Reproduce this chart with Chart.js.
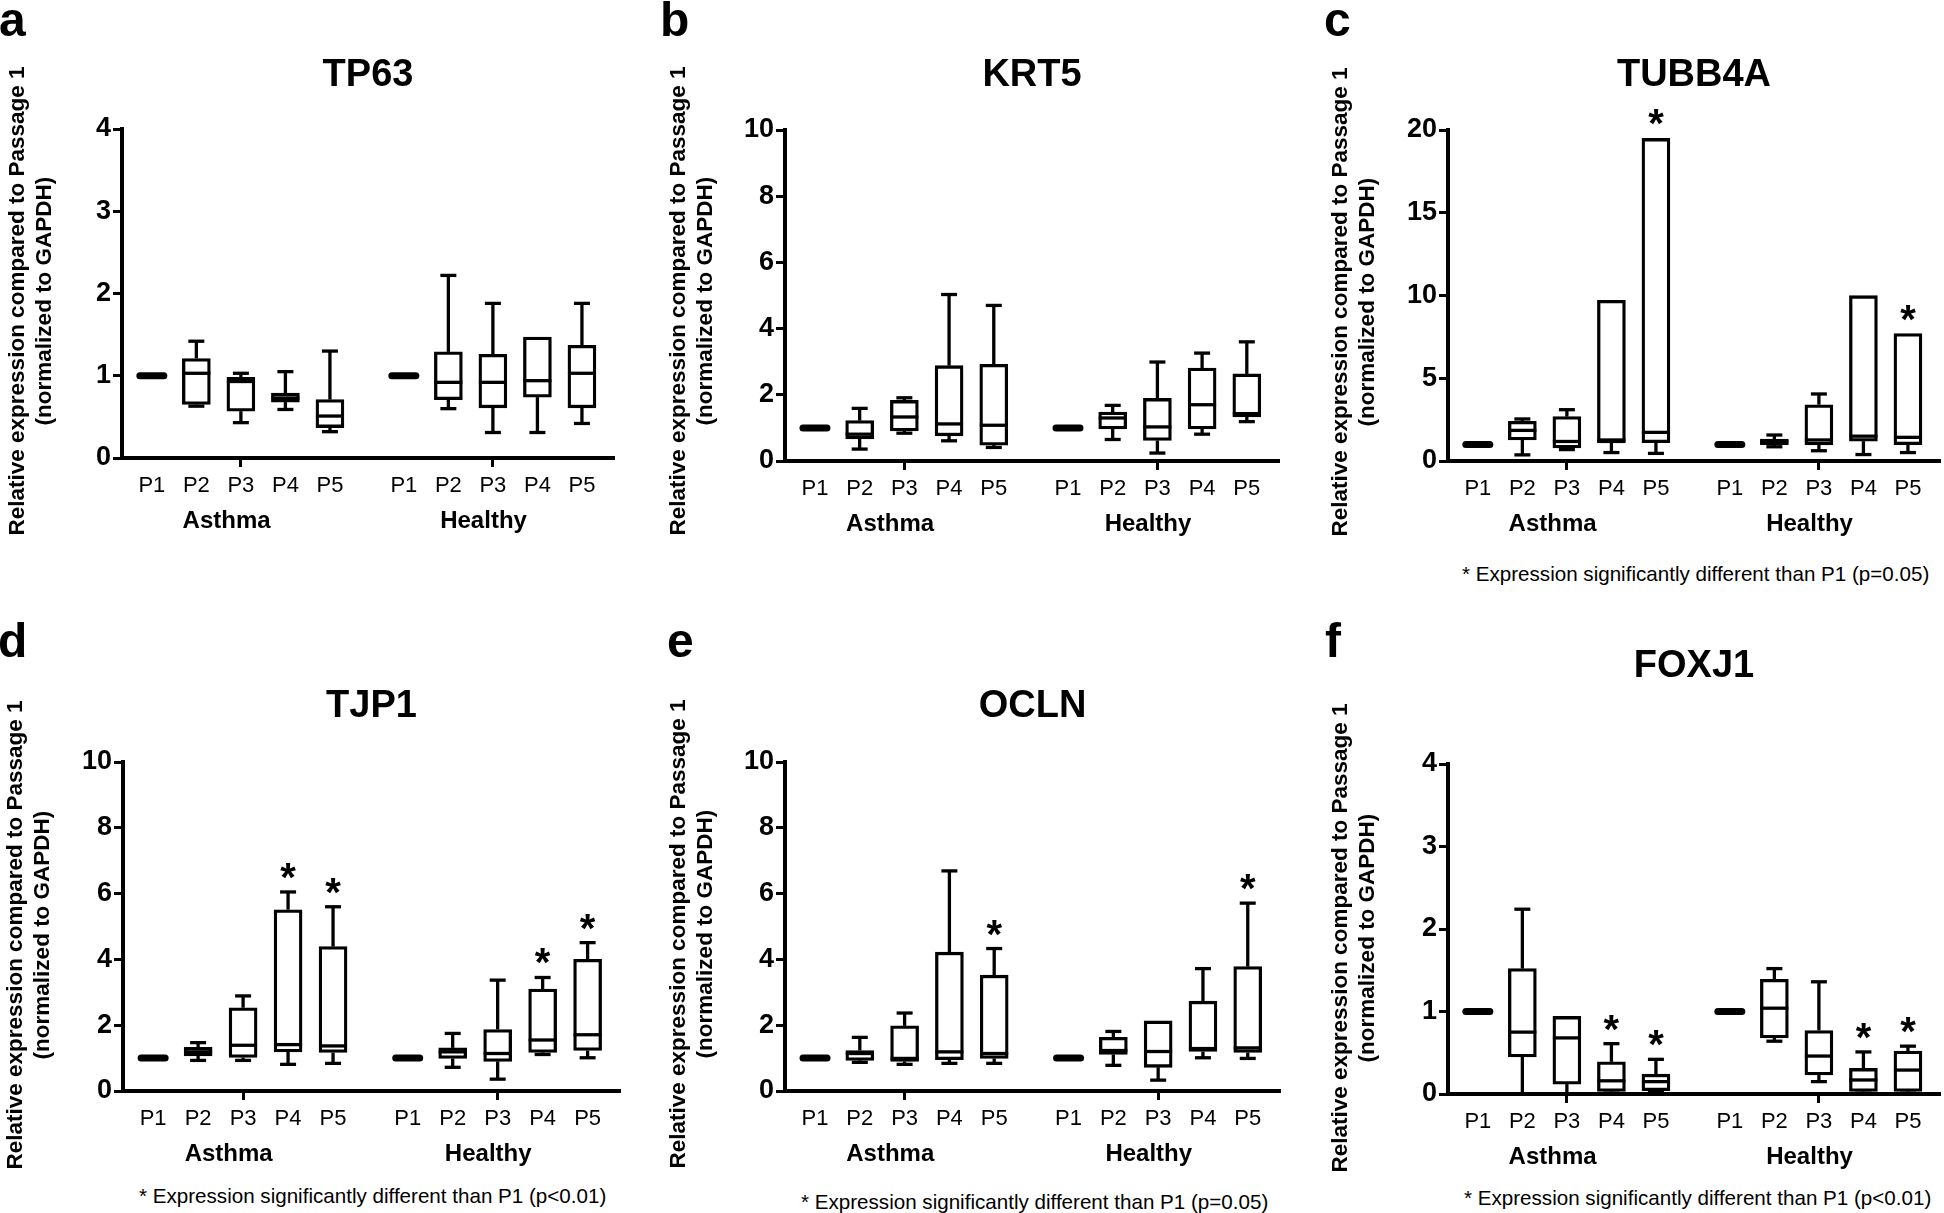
<!DOCTYPE html>
<html>
<head>
<meta charset="utf-8">
<title>Expression per passage</title>
<script src="https://cdn.jsdelivr.net/npm/chart.js@4.4.1/dist/chart.umd.min.js"></script>
<style>
    html, body { margin: 0; padding: 0; background: #fff; }
    #fig { position: relative; width: 1944px; height: 1213px; overflow: hidden;
           font-family: "Liberation Sans", Arial, Helvetica, sans-serif; color: #000; }
    #fig canvas { position: absolute; }
    .letter { position: absolute; font-weight: bold; font-size: 48px; line-height: 48px; }
    .ytitle { position: absolute; width: 600px; text-align: center; font-weight: bold;
              font-size: 22.5px; line-height: 27px; white-space: nowrap;
              transform: translate(-50%, -50%) rotate(-90deg); }
    .note { position: absolute; font-size: 20.6px; line-height: 24px; white-space: nowrap; }
</style>
</head>
<body>
<div id="fig">
    <canvas id="cA" width="650" height="543" style="left:0px;top:0px"></canvas>
    <canvas id="cB" width="640" height="546" style="left:660px;top:0px"></canvas>
    <canvas id="cC" width="621" height="546" style="left:1323px;top:0px"></canvas>
    <canvas id="cD" width="650" height="586" style="left:0px;top:590px"></canvas>
    <canvas id="cE" width="640" height="586" style="left:660px;top:590px"></canvas>
    <canvas id="cF" width="621" height="589" style="left:1323px;top:590px"></canvas>

    <div class="letter" style="left:-1px;top:-4px">a</div>
    <div class="letter" style="left:660px;top:-4px">b</div>
    <div class="letter" style="left:1324px;top:-4px">c</div>
    <div class="letter" style="left:-2px;top:617px">d</div>
    <div class="letter" style="left:667px;top:617px">e</div>
    <div class="letter" style="left:1325px;top:617px">f</div>

    <div class="ytitle" style="left:30px;top:301px">Relative expression compared to Passage 1<br>(normalized to GAPDH)</div>
    <div class="ytitle" style="left:691px;top:301px">Relative expression compared to Passage 1<br>(normalized to GAPDH)</div>
    <div class="ytitle" style="left:1353px;top:302px">Relative expression compared to Passage 1<br>(normalized to GAPDH)</div>
    <div class="ytitle" style="left:28px;top:935px">Relative expression compared to Passage 1<br>(normalized to GAPDH)</div>
    <div class="ytitle" style="left:691px;top:934px">Relative expression compared to Passage 1<br>(normalized to GAPDH)</div>
    <div class="ytitle" style="left:1353px;top:938px">Relative expression compared to Passage 1<br>(normalized to GAPDH)</div>

    <div class="note" style="left:1462px;top:562px">* Expression significantly different than P1 (p=0.05)</div>
    <div class="note" style="left:139px;top:1184px">* Expression significantly different than P1 (p&lt;0.01)</div>
    <div class="note" style="left:801px;top:1190px">* Expression significantly different than P1 (p=0.05)</div>
    <div class="note" style="left:1464px;top:1186px">* Expression significantly different than P1 (p&lt;0.01)</div>
</div>

<script>
// ===========================
// Data
// ===========================
const passageLabels = ["P1", "P2", "P3", "P4", "P5", "P1", "P2", "P3", "P4", "P5"];
const passagePos = [1, 2, 3, 4, 5, 6.66, 7.66, 8.66, 9.66, 10.66];
const groupLabels = ["Asthma", "Healthy"];
const groupPos = [2.68, 8.45];
const groupTicks = [3, 8.66];

// TP63
const tp63Min = [1, 0.63, 0.43, 0.59, 0.32, 1, 0.60, 0.31, 0.31, 0.42];
const tp63Q1  = [1, 0.65, 0.57, 0.68, 0.37, 1, 0.71, 0.61, 0.74, 0.61];
const tp63Med = [1, 1.03, 0.93, 0.73, 0.51, 1, 0.92, 0.92, 0.94, 1.03];
const tp63Q3  = [1, 1.21, 0.98, 0.79, 0.71, 1, 1.29, 1.26, 1.47, 1.37];
const tp63Max = [1, 1.42, 1.03, 1.05, 1.30, 1, 2.22, 1.88, 1.47, 1.88];
const tp63Star = [0, 0, 0, 0, 0, 0, 0, 0, 0, 0];

// KRT5
const krt5Min = [1, 0.36, 0.84, 0.61, 0.41, 1, 0.65, 0.24, 0.81, 1.19];
const krt5Q1  = [1, 0.67, 0.91, 0.76, 0.48, 1, 0.97, 0.62, 0.97, 1.33];
const krt5Med = [1, 0.81, 1.33, 1.12, 1.08, 1, 1.30, 1.03, 1.70, 1.43];
const krt5Q3  = [1, 1.22, 1.83, 2.88, 2.92, 1, 1.48, 1.89, 2.81, 2.63];
const krt5Max = [1, 1.59, 1.91, 5.03, 4.70, 1, 1.68, 2.99, 3.26, 3.60];
const krt5Star = [0, 0, 0, 0, 0, 0, 0, 0, 0, 0];

// TUBB4A
const tubbMin = [1, 0.37, 0.69, 0.51, 0.46, 1, 0.86, 0.62, 0.39, 0.51];
const tubbQ1  = [1, 1.27, 0.79, 1.09, 1.11, 1, 0.99, 0.97, 1.20, 0.99];
const tubbMed = [1, 1.85, 1.18, 1.27, 1.73, 1, 1.16, 1.27, 1.50, 1.43];
const tubbQ3  = [1, 2.40, 2.68, 9.71, 19.49, 1, 1.32, 3.40, 9.99, 7.70];
const tubbMax = [1, 2.54, 3.10, 9.71, 19.49, 1, 1.57, 4.05, 9.99, 7.70];
const tubbStar = [0, 0, 0, 0, 1, 0, 0, 0, 0, 1];

// TJP1
const tjp1Min = [1, 0.93, 0.93, 0.81, 0.84, 1, 0.72, 0.36, 1.11, 1.01];
const tjp1Q1  = [1, 1.07, 1.02, 1.19, 1.17, 1, 0.99, 0.90, 1.17, 1.23];
const tjp1Med = [1, 1.19, 1.39, 1.41, 1.37, 1, 1.19, 1.14, 1.55, 1.71];
const tjp1Q3  = [1, 1.33, 2.53, 5.51, 4.39, 1, 1.31, 1.87, 3.10, 4.00];
const tjp1Max = [1, 1.47, 2.89, 6.05, 5.60, 1, 1.75, 3.37, 3.45, 4.51];
const tjp1Star = [0, 0, 0, 1, 1, 0, 0, 0, 1, 1];

// OCLN
const oclnMin = [1, 0.87, 0.81, 0.84, 0.84, 1, 0.78, 0.33, 1.01, 0.99];
const oclnQ1  = [1, 0.93, 0.90, 0.95, 0.99, 1, 1.11, 0.72, 1.20, 1.17];
const oclnMed = [1, 1.14, 0.99, 1.19, 1.14, 1, 1.23, 1.20, 1.29, 1.31];
const oclnQ3  = [1, 1.23, 1.98, 4.22, 3.52, 1, 1.63, 2.13, 2.73, 3.78];
const oclnMax = [1, 1.63, 2.37, 6.69, 4.33, 1, 1.81, 2.13, 3.72, 5.71];
const oclnStar = [0, 0, 0, 0, 1, 0, 0, 0, 0, 1];

// FOXJ1
const foxj1Min = [1, 0, 0, 0.01, 0.02, 1, 0.64, 0.15, 0.01, 0.01];
const foxj1Q1  = [1, 0.45, 0.12, 0.03, 0.04, 1, 0.68, 0.23, 0.03, 0.03];
const foxj1Med = [1, 0.75, 0.68, 0.16, 0.15, 1, 1.04, 0.46, 0.17, 0.29];
const foxj1Q3  = [1, 1.52, 0.94, 0.39, 0.24, 1, 1.39, 0.77, 0.31, 0.52];
const foxj1Max = [1, 2.24, 0.94, 0.61, 0.42, 1, 1.52, 1.36, 0.51, 0.58];
const foxj1Star = [0, 0, 0, 1, 1, 0, 0, 0, 1, 1];

// ===========================
// Helpers
// ===========================
const FONT = '"Liberation Sans", Arial, Helvetica, sans-serif';
Chart.defaults.font.family = FONT;
Chart.defaults.color = "#000";

const X_MIN = 0.33;
const X_MAX = 11.38;
const LINE_W = 3.3;

function seg(ctx, x1, y1, x2, y2) {
    ctx.beginPath();
    ctx.moveTo(x1, y1);
    ctx.lineTo(x2, y2);
    ctx.stroke();
}

// whiskers, medians and stars drawn on top of the floating bars
function makeBoxPlugin(s) {
    return {
        id: "boxWhisker",
        afterDatasetsDraw(chart) {
            const ctx = chart.ctx;
            const y = chart.scales.y;
            const bars = chart.getDatasetMeta(0).data;
            ctx.save();
            ctx.strokeStyle = "#000";
            ctx.fillStyle = "#000";
            bars.forEach(function (bar, i) {
                const x = bar.x;
                const half = bar.width / 2;
                const pMin = y.getPixelForValue(s.min[i]);
                const pQ1 = y.getPixelForValue(s.q1[i]);
                const pMed = y.getPixelForValue(s.med[i]);
                const pQ3 = y.getPixelForValue(s.q3[i]);
                const pMax = y.getPixelForValue(s.max[i]);

                if (s.q1[i] === s.q3[i]) {
                    ctx.lineWidth = 7;
                    ctx.lineCap = "round";
                    seg(ctx, x - 12, pMed, x + 12, pMed);
                } else {
                    ctx.lineWidth = LINE_W;
                    ctx.lineCap = "butt";
                    if (s.max[i] > s.q3[i]) {
                        seg(ctx, x, pQ3, x, pMax);
                        seg(ctx, x - 8, pMax, x + 8, pMax);
                    }
                    if (s.min[i] < s.q1[i]) {
                        seg(ctx, x, pQ1, x, pMin);
                        seg(ctx, x - 8, pMin, x + 8, pMin);
                    }
                    seg(ctx, x - half, pMed, x + half, pMed);
                }

                if (s.star[i]) {
                    ctx.font = "bold 40px " + FONT;
                    ctx.textAlign = "center";
                    ctx.textBaseline = "alphabetic";
                    ctx.fillText("*", x, pMax - 23 + 22);
                }
            });
            ctx.restore();
        }
    };
}

function buildChart(id, title, s, yMax, yStep, g) {
    const canvas = document.getElementById(id);
    return new Chart(canvas, {
        type: "bar",
        data: {
            datasets: [{
                data: passagePos.map((p, i) => ({ x: p, y: [s.q1[i], s.q3[i]] })),
                xAxisID: "x",
                yAxisID: "y",
                backgroundColor: "#fff",
                borderColor: "#000",
                borderWidth: LINE_W,
                borderSkipped: false,
                barThickness: 28
            }]
        },
        options: {
            responsive: false,
            animation: false,
            events: [],
            layout: { padding: { left: 0, right: g.padRight, top: 0, bottom: 0 } },
            plugins: {
                legend: { display: false },
                tooltip: { enabled: false },
                title: {
                    display: true,
                    text: title,
                    fullSize: false,
                    color: "#000",
                    font: { size: 38, weight: "bold", lineHeight: 1 },
                    padding: { top: g.titleTop, bottom: g.titleBottom }
                }
            },
            scales: {
                x: {
                    type: "linear",
                    min: X_MIN,
                    max: X_MAX,
                    offset: false,
                    weight: 0,
                    afterBuildTicks: sc => { sc.ticks = passagePos.map(v => ({ value: v })); },
                    afterFit: sc => { sc.height = 40; },
                    border: { display: true, color: "#000", width: 4 },
                    grid: {
                        display: true,
                        offset: false,
                        drawOnChartArea: false,
                        drawTicks: true,
                        tickLength: 9,
                        tickWidth: 3,
                        tickColor: c => (c.tick && groupTicks.includes(c.tick.value)) ? "#000" : "rgba(0,0,0,0)"
                    },
                    ticks: {
                        autoSkip: false,
                        maxRotation: 0,
                        minRotation: 0,
                        padding: 8,
                        color: "#000",
                        font: { size: 22, lineHeight: 1 },
                        callback: (v, i) => passageLabels[i]
                    }
                },
                x2: {
                    type: "linear",
                    axis: "x",
                    position: "bottom",
                    min: X_MIN,
                    max: X_MAX,
                    offset: false,
                    weight: 1,
                    afterBuildTicks: sc => { sc.ticks = groupPos.map(v => ({ value: v })); },
                    afterFit: sc => { sc.height = 45; },
                    border: { display: false },
                    grid: { display: false, drawTicks: false, offset: false },
                    ticks: {
                        autoSkip: false,
                        maxRotation: 0,
                        minRotation: 0,
                        padding: 11,
                        color: "#000",
                        font: { size: 24, weight: "bold", lineHeight: 1 },
                        callback: (v, i) => groupLabels[i]
                    }
                },
                y: {
                    type: "linear",
                    min: 0,
                    max: yMax,
                    afterFit: sc => { sc.width = g.axisW; },
                    border: { display: true, color: "#000", width: 4 },
                    grid: { display: true, drawOnChartArea: false, drawTicks: true, tickLength: 9, tickWidth: 3, tickColor: "#000" },
                    ticks: {
                        stepSize: yStep,
                        padding: 2,
                        color: "#000",
                        font: { size: 27, weight: "bold", lineHeight: 1 }
                    }
                }
            }
        },
        plugins: [makeBoxPlugin(s)]
    });
}

// ===========================
// Panels
// ===========================
document.addEventListener("DOMContentLoaded", function () {
    buildChart("cA", "TP63",
        { min: tp63Min, q1: tp63Q1, med: tp63Med, q3: tp63Q3, max: tp63Max, star: tp63Star },
        4, 1, { axisW: 122, padRight: 36, titleTop: 56.8, titleBottom: 34.2 });

    buildChart("cB", "KRT5",
        { min: krt5Min, q1: krt5Q1, med: krt5Med, q3: krt5Q3, max: krt5Max, star: krt5Star },
        10, 2, { axisW: 125, padRight: 21, titleTop: 56.8, titleBottom: 35.2 });

    buildChart("cC", "TUBB4A",
        { min: tubbMin, q1: tubbQ1, med: tubbMed, q3: tubbQ3, max: tubbMax, star: tubbStar },
        20, 5, { axisW: 125, padRight: 4, titleTop: 56.8, titleBottom: 35.2 });

    buildChart("cD", "TJP1",
        { min: tjp1Min, q1: tjp1Q1, med: tjp1Med, q3: tjp1Q3, max: tjp1Max, star: tjp1Star },
        10, 2, { axisW: 123, padRight: 30, titleTop: 97.2, titleBottom: 36.8 });

    buildChart("cE", "OCLN",
        { min: oclnMin, q1: oclnQ1, med: oclnMed, q3: oclnQ3, max: oclnMax, star: oclnStar },
        10, 2, { axisW: 125, padRight: 20, titleTop: 97.2, titleBottom: 36.8 });

    buildChart("cF", "FOXJ1",
        { min: foxj1Min, q1: foxj1Q1, med: foxj1Med, q3: foxj1Q3, max: foxj1Max, star: foxj1Star },
        4, 1, { axisW: 125, padRight: 4, titleTop: 57.8, titleBottom: 78.2 });
});
</script>
</body>
</html>
